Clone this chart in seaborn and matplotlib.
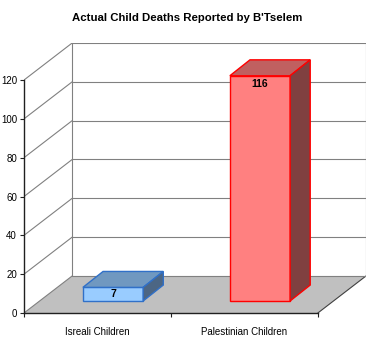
import matplotlib
matplotlib.use("Agg")
import matplotlib.pyplot as plt
from matplotlib.patches import Polygon
import seaborn as sns
import pandas as pd

# ---- data ----
categories = ["Isreali Children", "Palestinian Children"]
values = [7, 116]
title = "Actual Child Deaths Reported by B'Tselem"
yticks = [0, 20, 40, 60, 80, 100, 120]

front_colors = ["#99CCFF", "#FF8080"]
top_colors = ["#7098C0", "#C06060"]
side_colors = ["#4C6684", "#804040"]
edge_colors = ["#3070C8", "#FF0000"]

df = pd.DataFrame({"cat": categories, "val": values})

sns.set_theme(style="white")
plt.rcParams["font.family"] = ["Liberation Sans", "DejaVu Sans"]
plt.rcParams["text.color"] = "black"
plt.rcParams["xtick.color"] = "black"
plt.rcParams["ytick.color"] = "black"

W, H = 375, 340
fig = plt.figure(figsize=(W / 100, H / 100), dpi=100)
# pixel geometry of the front floor edge and back wall
px_left, px_right, px_bottom, px_top = 24, 366, 313, 43
ax = fig.add_axes([px_left / W, (H - px_bottom) / H,
                   (px_right - px_left) / W, (px_bottom - px_top) / H])

# oblique depth of the floor (data units)
DX = 48 / 146.5
DY = 37 / 1.94
# bar placement in depth
bfx, bfy = 0.106, 6.2      # front of bar
bdx, bdy = 0.137, 8.2      # bar depth

sns.barplot(data=df, x="cat", y="val", hue="cat", palette=front_colors,
            width=0.41, legend=False, ax=ax, zorder=5, linewidth=1,
            saturation=1)

ymax = yticks[-1]
ax.set_xlim(-0.5, 1.5 + DX)
ax.set_ylim(0, ymax + DY)

bars = list(ax.patches)

# floor
floor = Polygon([(-0.5, 0), (1.5, 0), (1.5 + DX, DY), (-0.5 + DX, DY)],
                closed=True, facecolor="#C0C0C0", edgecolor="none", zorder=1)
ax.add_patch(floor)
grid_kw = dict(color="#808080", lw=0.8, zorder=2)
ax.plot([1.5, 1.5 + DX], [0, DY], color="#404040", lw=0.8, zorder=2)
# left wall diagonals and back wall gridlines
for v in yticks:
    ax.plot([-0.5, -0.5 + DX], [v, v + DY], **grid_kw)
    ax.plot([-0.5 + DX, 1.5 + DX], [v + DY, v + DY], **grid_kw)
ax.plot([-0.5 + DX, -0.5 + DX], [DY, ymax + DY], **grid_kw)
ax.plot([1.5 + DX, 1.5 + DX], [DY, ymax + DY], **grid_kw)

# make bars 3D
for i, p in enumerate(bars):
    p.set_x(p.get_x() + bfx)
    p.set_y(p.get_y() + bfy)
    p.set_edgecolor(edge_colors[i])
    x0 = p.get_x()
    x1 = x0 + p.get_width()
    y0 = p.get_y()
    y1 = y0 + p.get_height()
    top = Polygon([(x0, y1), (x1, y1), (x1 + bdx, y1 + bdy), (x0 + bdx, y1 + bdy)],
                  closed=True, facecolor=top_colors[i], edgecolor=edge_colors[i],
                  lw=1, zorder=5)
    side = Polygon([(x1, y0), (x1 + bdx, y0 + bdy), (x1 + bdx, y1 + bdy), (x1, y1)],
                   closed=True, facecolor=side_colors[i], edgecolor=edge_colors[i],
                   lw=1, zorder=5)
    ax.add_patch(top)
    ax.add_patch(side)
    ly = y0 + p.get_height() / 2 if p.get_height() < 20 else y1 - 4.5
    ax.text((x0 + x1) / 2, ly, str(values[i]), ha="center", va="center",
            fontsize=7.5, fontweight="bold", color="black", zorder=6)

# axes styling
for s in ["top", "right"]:
    ax.spines[s].set_visible(False)
ax.spines["left"].set_bounds(0, ymax)
ax.spines["bottom"].set_bounds(-0.5, 1.5)
for s in ["left", "bottom"]:
    ax.spines[s].set_color("#202020")
    ax.spines[s].set_linewidth(1)
    ax.spines[s].set_zorder(3)
ax.set_yticks(yticks)
ax.set_yticklabels([str(v) for v in yticks])
ax.set_xticks(range(len(categories)))
ax.set_xticklabels(categories)
ax.set_xticks([-0.5, 0.5, 1.5], minor=True)
ax.tick_params(axis="y", which="major", left=True, direction="out",
               length=3, width=0.8, color="#202020", labelsize=7, pad=2,
               labelcolor="black")
ax.tick_params(axis="x", which="major", bottom=False, labelsize=7, pad=4,
               labelcolor="black")
ax.tick_params(axis="x", which="minor", bottom=True, direction="out",
               length=3, width=0.8, color="#202020")
ax.set_xlabel("")
ax.set_ylabel("")
ax.patch.set_visible(False)

fig.text(0.5, 1 - 18 / H, title, ha="center", va="center",
         fontsize=8.2, fontweight="bold", color="black")

fig.savefig("out.png", dpi=100)
